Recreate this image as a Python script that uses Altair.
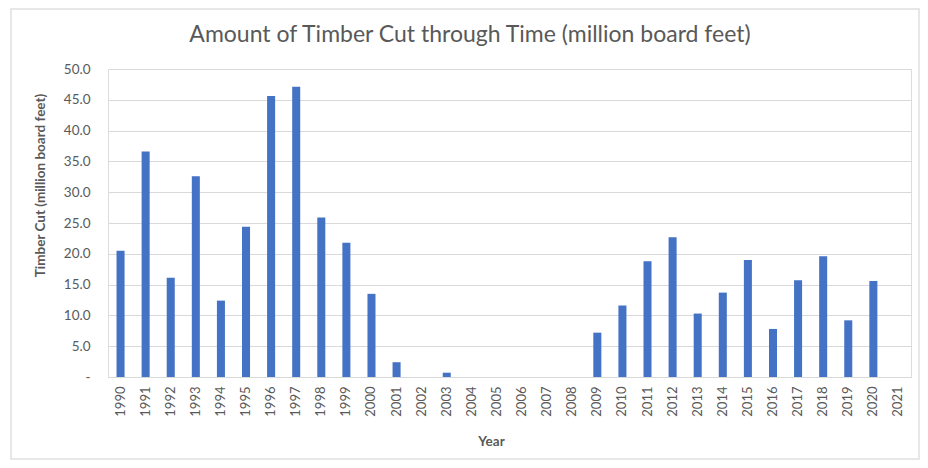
import altair as alt
import pandas as pd

years = [str(y) for y in range(1990, 2022)]
timber_cut = [20.5, 36.6, 16.1, 32.6, 12.4, 24.4, 45.6, 47.1, 25.9, 21.8, 13.5, 2.4,
              0.0, 0.7, 0.0, 0.0, 0.0, 0.0, 0.0, 7.2, 11.6, 18.8, 22.7, 10.3, 13.7,
              19.0, 7.8, 15.7, 19.6, 9.2, 15.6, 0.0]
y_ticks = [0, 5, 10, 15, 20, 25, 30, 35, 40, 45, 50]
title_text = "Amount of Timber Cut through Time (million board feet)"

df = pd.DataFrame({"Year": years, "Cut": timber_cut})

FONT = "Lato"
GRAY = "#595959"

bars = alt.Chart(df).mark_bar(color="#4472C4").encode(
    x=alt.X("Year:N", sort=years,
            scale=alt.Scale(paddingInner=0.68, paddingOuter=0.34),
            axis=alt.Axis(title="Year", labelAngle=270, labelFontSize=13,
                          labelColor=GRAY, labelFont=FONT, labelPadding=9,
                          ticks=False, domainColor="#d9d9d9",
                          titleFont=FONT, titleFontSize=13.5, titleFontWeight="bold",
                          titleColor=GRAY, titleX=383, titleY=68,
                          titleBaseline="alphabetic", titleAnchor="start",
                          titleAlign="center")),
    y=alt.Y("Cut:Q", scale=alt.Scale(domain=[0, 50], nice=False),
            axis=alt.Axis(title="Timber Cut (million board feet)", values=y_ticks,
                          labelExpr="datum.value == 0 ? '-' : format(datum.value, '.1f')",
                          labelFontSize=13.5, labelColor=GRAY, labelFont=FONT,
                          labelPadding=18, ticks=False, domain=False,
                          gridColor="#d9d9d9", titleFont=FONT, titleFontSize=13.5,
                          titleFontWeight="bold", titleColor=GRAY,
                          titleAngle=270, titleX=-64, titleY=116,
                          titleBaseline="alphabetic", titleAlign="center")),
)

one = pd.DataFrame({"a": [0]})

frame = alt.Chart(one).mark_rect(
    fill=None, stroke="#e0e0e0", strokeWidth=1.5
).encode(x=alt.value(-97), x2=alt.value(811), y=alt.value(-60), y2=alt.value(390))

title = alt.Chart(one).mark_text(
    font=FONT, fontSize=23, fontWeight="normal", color=GRAY,
    align="center", baseline="alphabetic"
).encode(x=alt.value(362), y=alt.value(-27), text=alt.value(title_text))

chart = alt.layer(frame, title, bars).properties(
    width=803, height=308,
    autosize=alt.AutoSizeParams(type="none"),
    padding={"left": 100, "top": 61, "right": 9, "bottom": 83},
).configure_view(stroke=None).configure(background="white")

chart.save("out.html", embed_options={"renderer": "svg", "actions": False})
